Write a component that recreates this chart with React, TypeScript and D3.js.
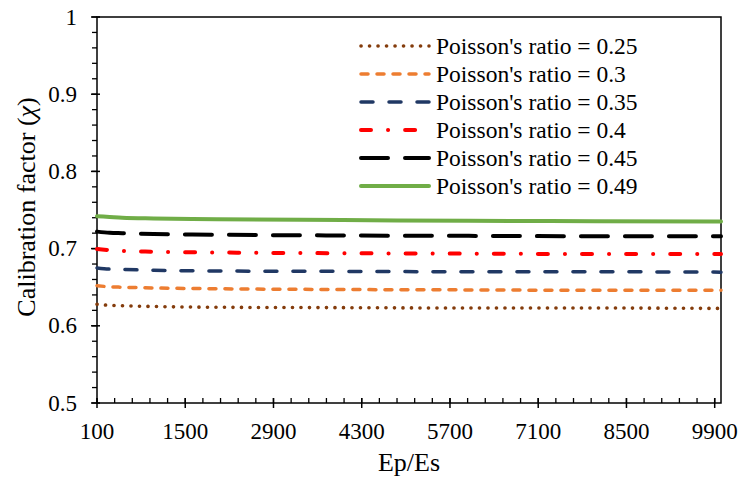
import React from 'react';
import * as d3 from 'd3';

// Ep/Es values where the curves were read
const epEs = [100, 300, 500, 1000, 2000, 4000, 6000, 8000, 10000];

const ratios = ['0.25', '0.3', '0.35', '0.4', '0.45', '0.49'];

const chi025 = [0.628, 0.6265, 0.626, 0.625, 0.624, 0.6235, 0.623, 0.623, 0.6225];
const chi030 = [0.652, 0.6505, 0.650, 0.649, 0.648, 0.647, 0.6465, 0.646, 0.646];
const chi035 = [0.675, 0.6735, 0.673, 0.672, 0.671, 0.6705, 0.670, 0.670, 0.6695];
const chi040 = [0.6995, 0.698, 0.697, 0.696, 0.695, 0.694, 0.6935, 0.693, 0.693];
const chi045 = [0.722, 0.7205, 0.720, 0.719, 0.718, 0.717, 0.7165, 0.716, 0.716];
const chi049 = [0.742, 0.741, 0.740, 0.739, 0.738, 0.737, 0.736, 0.7355, 0.735];

const xTicks = [100, 1500, 2900, 4300, 5700, 7100, 8500, 9900];
const yTicks = [0.5, 0.6, 0.7, 0.8, 0.9, 1];

const series = [chi025, chi030, chi035, chi040, chi045, chi049];
const styles = [
  { color: '#843C0C', dash: '0.1 8.4', width: 3.6 },
  { color: '#ED7D31', dash: '7 9', width: 3.5 },
  { color: '#203864', dash: '12 16', width: 3.5 },
  { color: '#FF0000', dash: '10 17 0.1 17', width: 4 },
  { color: '#000000', dash: '27 17', width: 4 },
  { color: '#70AD47', dash: null, width: 4 },
];

const W = 742;
const H = 479;
const left = 97, right = 721, top = 17, bottom = 403;
const serif = "'Liberation Serif', 'Times New Roman', 'DejaVu Serif'";
const tickTxt = { fontFamily: serif, fontSize: 23, fill: '#000' };
const legTxt = { fontFamily: serif, fontSize: 23.5, fill: '#000' };
const titleTxt = { fontFamily: serif, fontSize: 26, fill: '#000' };

export default function App() {
  const x = d3.scaleLinear().domain([100, 10000]).range([left, right]);
  const y = d3.scaleLinear().domain([0.5, 1]).range([bottom, top]);

  const line = d3.line<[number, number]>()
    .x(d => x(d[0]))
    .y(d => y(d[1]))
    .curve(d3.curveMonotoneX);

  const xMinor = d3.range(100, 9901, 280);
  const yMinor = d3.range(0.5, 1.0001, 0.02);

  return (
    <svg width={W} height={H} style={{ position: 'absolute', left: 0, top: 0, background: '#fff' }}>
      {/* plot frame */}
      <rect x={left} y={top} width={right - left} height={bottom - top} fill="none" stroke="#000" strokeWidth={1.5} />

      {/* y ticks */}
      {yMinor.map((v, i) => (
        <line key={'ym' + i} x1={left - 5} x2={left} y1={y(v)} y2={y(v)} stroke="#000" strokeWidth={1.3} />
      ))}
      {yTicks.map(v => (
        <g key={'y' + v}>
          <line x1={left - 6} x2={left + 3} y1={y(v)} y2={y(v)} stroke="#000" strokeWidth={1.5} />
          <text x={77} y={y(v)} textAnchor="end" dominantBaseline="central" style={tickTxt}>{v}</text>
        </g>
      ))}

      {/* x ticks */}
      {xMinor.map((v, i) => (
        <line key={'xm' + i} x1={x(v)} x2={x(v)} y1={bottom - 5} y2={bottom} stroke="#000" strokeWidth={1.3} />
      ))}
      {xTicks.map(v => (
        <g key={'x' + v}>
          <line x1={x(v)} x2={x(v)} y1={bottom - 5} y2={bottom + 5} stroke="#000" strokeWidth={1.5} />
          <text x={x(v)} y={439} textAnchor="middle" style={tickTxt}>{v}</text>
        </g>
      ))}

      {/* curves */}
      {series.map((s, i) => (
        <path
          key={'s' + i}
          d={line(s.map((v, j) => [epEs[j], v] as [number, number])) || ''}
          fill="none"
          stroke={styles[i].color}
          strokeWidth={styles[i].width}
          strokeDasharray={styles[i].dash || undefined}
          strokeLinecap="round"
        />
      ))}

      {/* legend */}
      {ratios.map((r, i) => {
        const ly = 46 + i * 28;
        return (
          <g key={'lg' + r}>
            <line x1={361} x2={429} y1={ly} y2={ly} stroke={styles[i].color} strokeWidth={styles[i].width}
              strokeDasharray={styles[i].dash || undefined} strokeLinecap="round" />
            <text x={436} y={ly} dominantBaseline="central" style={legTxt}>{`Poisson's ratio = ${r}`}</text>
          </g>
        );
      })}

      {/* axis titles */}
      <text x={409} y={471} textAnchor="middle" style={titleTxt}>Ep/Es</text>
      <text transform="translate(35,207) rotate(-90)" textAnchor="middle" style={titleTxt}>
        Calibration factor (<tspan fontStyle="italic">χ</tspan>)
      </text>
    </svg>
  );
}
